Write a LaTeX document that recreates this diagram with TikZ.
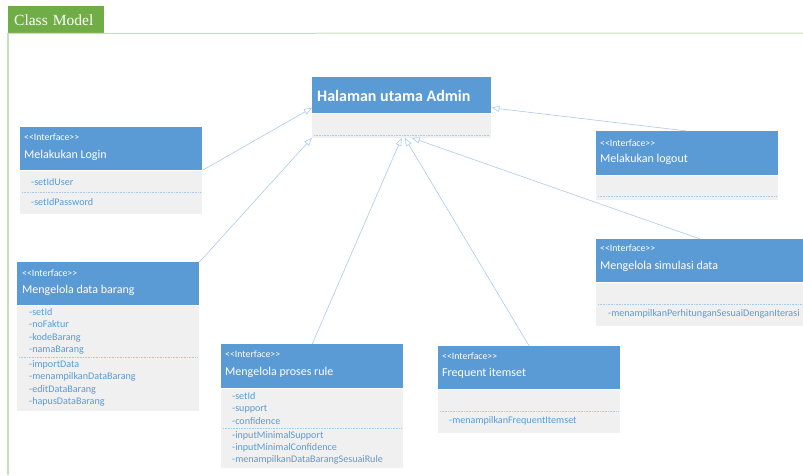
\documentclass[tikz,border=0pt]{standalone}
\usepackage{fontspec}
\setmainfont{Carlito}
\newfontfamily\tabfont{Liberation Serif}
\usetikzlibrary{arrows.meta}
\definecolor{headblue}{HTML}{5B9BD5}
\definecolor{bodygray}{HTML}{F0F0F0}
\definecolor{lineblue}{HTML}{A9CBEA}
\definecolor{tabgreen}{HTML}{70AD47}
\definecolor{framegreen}{HTML}{C9DFBA}
\tikzset{head/.style={rectangle, fill=headblue, minimum width=182pt, minimum height=43pt, anchor=north west, inner sep=0pt},
	body/.style={rectangle, fill=bodygray, minimum width=182pt, anchor=north west, inner sep=0pt},
	stereo/.style={anchor=west, text=white, font=\fontsize{9.8}{11}\selectfont, inner sep=0pt},
	cname/.style={anchor=west, text=white, font=\fontsize{12}{14}\selectfont, inner sep=0pt},
	attr/.style={anchor=west, text=headblue, font=\fontsize{10.1}{12.3}\selectfont, inner sep=0pt, align=left},
	sep/.style={draw=lineblue, dash pattern=on 1pt off 0.6pt, line width=0.6pt},
	gen/.style={draw=lineblue, line width=0.6pt, -{Triangle[open, length=8pt, width=6pt]}},
	tab/.style={fill=tabgreen, text=white, anchor=north west, minimum height=27pt, text width=84pt, inner xsep=6pt, align=left, font=\tabfont\fontsize{15.5}{17}\selectfont}
}

\begin{document}
\begin{tikzpicture}[x=1pt, y=-1pt]
	\clip (0,0) rectangle (803,475);
	\node[tab] (classmodel) at (8,6) {Class Model};
	\draw[framegreen, line width=1pt] (classmodel.south west) -- (803,33);
	\draw[framegreen, line width=1.5pt] (classmodel.south west) -- (8,475);

	\node[head, minimum width=179pt, minimum height=36pt] (admin) at (312,77) {};
	\node[body, minimum width=179pt, minimum height=24pt] (adminbody) at (admin.south west) {};
	\node[anchor=west, text=white, font=\bfseries\fontsize{16}{18}\selectfont, inner sep=0pt] (admintitle) at (317,96) {Halaman utama Admin};
	\draw[sep] (314,135) -- (489,135);

	\node[head] (login) at (20,127) {};
	\node[body, minimum height=43pt] (loginbody) at (login.south west) {};
	\node[stereo] (loginst) at (24,137) {{<}{<}Interface{>}{>}};
	\node[cname] (loginname) at (24,155) {Melakukan Login};
	\node[attr] (loginattr) at (31,182) {-setIdUser};
	\draw[sep] (22,192) -- (200,192);
	\node[attr] (loginmethod) at (31,202) {-setIdPassword};

	\node[head, minimum height=44pt] (logout) at (596,131) {};
	\node[body, minimum height=24pt] (logoutbody) at (logout.south west) {};
	\node[stereo] (logoutst) at (600,143) {{<}{<}Interface{>}{>}};
	\node[cname] (logoutname) at (600,159) {Melakukan logout};
	\draw[sep] (598,196) -- (776,196);

	\node[head] (databarang) at (17,262) {};
	\node[body, minimum height=105pt] (databarangbody) at (databarang.south west) {};
	\node[stereo] (databarangst) at (22,273) {{<}{<}Interface{>}{>}};
	\node[cname] (databarangname) at (22,290) {Mengelola data barang};
	\node[attr] (databarangattr) at (29,331.5) {-setId\\-noFaktur\\-kodeBarang\\-namaBarang};
	\draw[sep] (19,357) -- (198,357);
	\node[attr] (databarangmethod) at (29,383.5) {-importData\\-menampilkanDataBarang\\-editDataBarang\\-hapusDataBarang};

	\node[head, minimum width=208pt] (simulasi) at (596,239) {};
	\node[body, minimum width=208pt, minimum height=43pt] (simulasibody) at (simulasi.south west) {};
	\node[stereo] (simulasist) at (600,248) {{<}{<}Interface{>}{>}};
	\node[cname] (simulasiname) at (600,266) {Mengelola simulasi data};
	\draw[sep] (598,304) -- (804,304);
	\node[attr] (simulasimethod) at (608,314) {-menampilkanPerhitunganSesuaiDenganIterasi};

	\node[head, minimum height=44pt] (prosesrule) at (221,344) {};
	\node[body, minimum height=79pt] (prosesrulebody) at (prosesrule.south west) {};
	\node[stereo] (prosesrulest) at (225,354) {{<}{<}Interface{>}{>}};
	\node[cname] (prosesrulename) at (225,372) {Mengelola proses rule};
	\node[attr] (prosesruleattr) at (232,408.5) {-setId\\-support\\-confidence};
	\draw[sep] (223,428) -- (401,428);
	\node[attr] (prosesrulemethod) at (232,448) {-inputMinimalSupport\\-inputMinimalConfidence\\-menampilkanDataBarangSesuaiRule};

	\node[head] (frequent) at (438,346) {};
	\node[body, minimum height=43pt] (frequentbody) at (frequent.south west) {};
	\node[stereo] (frequentst) at (442,356) {{<}{<}Interface{>}{>}};
	\node[cname] (frequentname) at (442,373) {Frequent itemset};
	\draw[sep] (440,411) -- (618,411);
	\node[attr] (frequentmethod) at (449,421) {-menampilkanFrequentItemset};

	\draw[gen] (login.south east) -- (admin.188);
	\draw[gen] (databarang.north east) -- (adminbody.south west);
	\draw[gen] (logout.north) -- (admin.352);
	\draw[gen] (simulasi.north) -- ([xshift=10pt]adminbody.south);
	\draw[gen] (prosesrule.north) -- (adminbody.south);
	\draw[gen] (frequent.north) -- ([xshift=3pt]adminbody.south);
\end{tikzpicture}
\end{document}
